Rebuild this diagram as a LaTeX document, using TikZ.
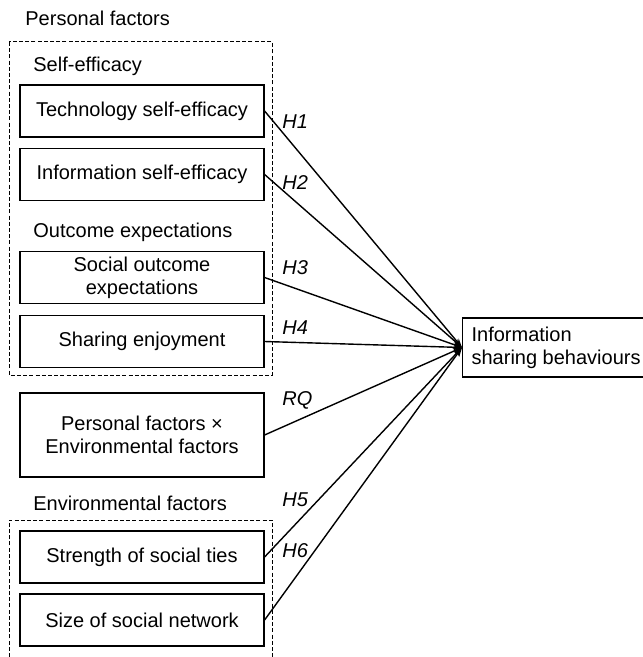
\documentclass[tikz,border=0pt]{standalone}
\usepackage{fontspec}
\setmainfont{Liberation Sans}
\usetikzlibrary{arrows.meta}
\begin{document}
\begin{tikzpicture}[x=0.5pt,y=-0.5pt,
        factor/.style={draw, line width=0.6pt, minimum width=122pt, minimum height=26pt, inner sep=0pt, align=center, font=\fontsize{10}{11.5}\selectfont},
        grouptitle/.style={anchor=west, inner sep=0pt, font=\fontsize{10}{11.5}\selectfont},
        hyp/.style={anchor=west, inner sep=0pt, font=\fontsize{10}{11.5}\selectfont\itshape},
        groupbox/.style={line width=0.5pt, dash pattern=on 2pt off 1.1pt},
        link/.style={-{Stealth[length=4.5pt,width=3.2pt]}, line width=0.7pt}]
        \useasboundingbox (0,0) rectangle (642,657);
        % groups
        \draw[groupbox] (9,42) rectangle (272,375);
        \draw[groupbox] (9,657) |- (272,520) -- (272,657);
        \node[grouptitle] (personal) at (25,18) {Personal factors};
        \node[grouptitle] (selfeff) at (33,66) {Self-efficacy};
        \node[grouptitle] (outcome) at (33,232) {Outcome expectations};
        \node[grouptitle] (environ) at (33,503) {Environmental factors};
        % factors
        \node[factor] (tse) at (142,111) {Technology self-efficacy};
        \node[factor] (ise) at (142,174.5) {Information self-efficacy};
        \node[factor] (soe) at (142,277.5) {Social outcome\\expectations};
        \node[factor] (enj) at (142,341.5) {Sharing enjoyment};
        \node[factor, minimum height=42pt] (pxe) at (142,435) {Personal factors ×\\Environmental factors};
        \node[factor] (sst) at (142,557) {Strength of social ties};
        \node[factor] (ssn) at (142,620) {Size of social network};
        % outcome
        \node[draw, line width=0.6pt, anchor=west, align=left, minimum width=93pt, minimum height=29.5pt, inner xsep=4.5pt, inner ysep=0pt, font=\fontsize{10}{11.5}\selectfont] (isb) at (462,347.5) {Information\\sharing behaviours};
        % hypotheses
        \draw[link] (tse.east) -- (isb.west);
        \draw[link] (ise.east) -- (isb.west);
        \draw[link] (soe.east) -- (isb.west);
        \draw[link] (enj.east) -- (isb.west);
        \draw[link] (pxe.east) -- (isb.west);
        \draw[link] (sst.east) -- (isb.west);
        \draw[link] (ssn.east) -- (isb.west);
        \node[hyp] (h1) at (282,122) {H1};
        \node[hyp] (h2) at (282,183) {H2};
        \node[hyp] (h3) at (282,268) {H3};
        \node[hyp] (h4) at (282,328) {H4};
        \node[hyp] (rq) at (282,400) {RQ};
        \node[hyp] (h5) at (282,500) {H5};
        \node[hyp] (h6) at (282,551) {H6};
\end{tikzpicture}
\end{document}
